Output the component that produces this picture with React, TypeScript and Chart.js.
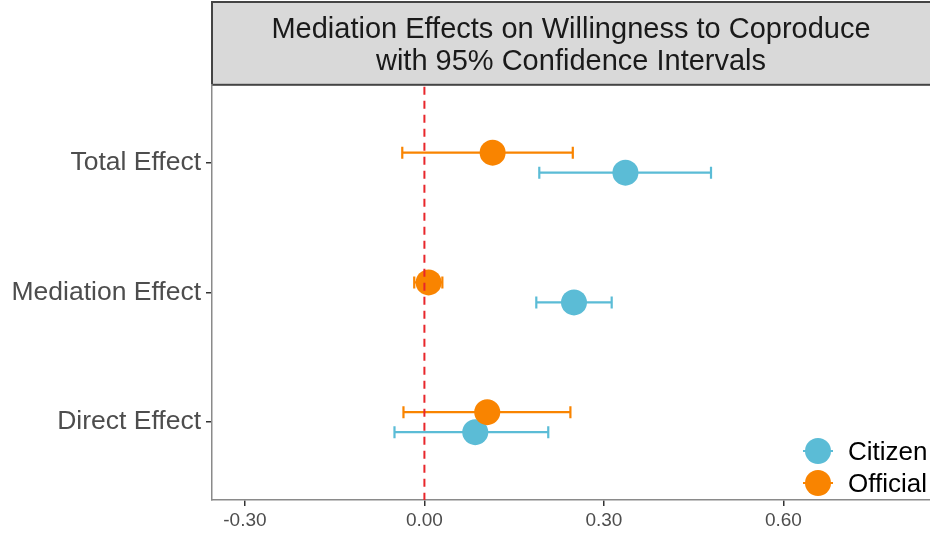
import React, { useEffect, useRef } from 'react';
import { Chart, registerables } from 'chart.js';

Chart.register(...registerables);

// ---- data ----
const categories = ['Total Effect', 'Mediation Effect', 'Direct Effect'];
const seriesNames = ['Citizen', 'Official'];
const citizenEst = [0.336, 0.25, 0.085];
const citizenLo = [0.192, 0.187, -0.05];
const citizenHi = [0.479, 0.313, 0.207];
const officialEst = [0.114, 0.007, 0.105];
const officialLo = [-0.037, -0.017, -0.035];
const officialHi = [0.248, 0.03, 0.244];
const xTickValues = [-0.3, 0, 0.3, 0.6];
const titleLines = ['Mediation Effects on Willingness to Coproduce', 'with 95% Confidence Intervals'];
const refLineValue = 0;

// ---- styles ----
const COLORS: Record<string, string> = { Citizen: '#5BBCD6', Official: '#F98400' };
const DODGE: Record<string, number> = { Citizen: 0.077, Official: -0.077 };
const FONT = "'Liberation Sans', Arial, Helvetica, sans-serif";
const POINT_R = 13;
const CAP = 6;

function makeData(est: number[], lo: number[], hi: number[], name: string) {
  return est.map((v, i) => ({ x: v, y: i + 1 + DODGE[name], lo: lo[i], hi: hi[i] }));
}

const titleBoxPlugin = {
  id: 'titleBox',
  beforeDraw(chart: any) {
    const { ctx, chartArea } = chart;
    ctx.save();
    ctx.fillStyle = '#d9d9d9';
    ctx.strokeStyle = '#444444';
    ctx.lineWidth = 2;
    const x = chartArea.left;
    const y = 2;
    const w = chart.width - x + 5;
    const h = chartArea.top - y;
    ctx.fillRect(x, y, w, h);
    ctx.strokeRect(x, y, w, h);
    ctx.restore();
  },
};

const errorBarPlugin = {
  id: 'errorBars',
  beforeDatasetsDraw(chart: any) {
    const { ctx } = chart;
    const xs = chart.scales.x;
    const ys = chart.scales.y;
    ctx.save();
    ctx.lineWidth = 2.2;
    const dsList = chart.data.datasets.slice().reverse();
    dsList.forEach((ds: any) => {
      ctx.strokeStyle = ds.backgroundColor;
      ds.data.forEach((p: any) => {
        const py = ys.getPixelForValue(p.y);
        const x1 = xs.getPixelForValue(p.lo);
        const x2 = xs.getPixelForValue(p.hi);
        ctx.beginPath();
        ctx.moveTo(x1, py);
        ctx.lineTo(x2, py);
        ctx.moveTo(x1, py - CAP);
        ctx.lineTo(x1, py + CAP);
        ctx.moveTo(x2, py - CAP);
        ctx.lineTo(x2, py + CAP);
        ctx.stroke();
      });
    });
    ctx.restore();
  },
};

const refLinePlugin = {
  id: 'refLine',
  afterDatasetsDraw(chart: any) {
    const { ctx, chartArea } = chart;
    const x = chart.scales.x.getPixelForValue(refLineValue);
    ctx.save();
    ctx.strokeStyle = '#e8262b';
    ctx.lineWidth = 2;
    ctx.setLineDash([8, 6]);
    ctx.beginPath();
    ctx.moveTo(x, chartArea.top + 2);
    ctx.lineTo(x, chartArea.bottom);
    ctx.stroke();
    ctx.restore();
  },
};

const legendPlugin = {
  id: 'innerLegend',
  afterDraw(chart: any) {
    const { ctx, chartArea } = chart;
    ctx.save();
    const keyX = 818;
    const textX = 848;
    const startY = chartArea.bottom - 49;
    seriesNames.forEach((name, i) => {
      const y = startY + i * 32;
      ctx.strokeStyle = COLORS[name];
      ctx.lineWidth = 2;
      ctx.beginPath();
      ctx.moveTo(keyX - 15, y);
      ctx.lineTo(keyX + 15, y);
      ctx.stroke();
      ctx.fillStyle = COLORS[name];
      ctx.beginPath();
      ctx.arc(keyX, y, POINT_R, 0, Math.PI * 2);
      ctx.fill();
      ctx.fillStyle = '#000000';
      ctx.font = `26px ${FONT}`;
      ctx.textAlign = 'left';
      ctx.textBaseline = 'middle';
      ctx.fillText(name, textX, y + 2);
    });
    ctx.restore();
  },
};

export default function App() {
  const ref = useRef<HTMLCanvasElement | null>(null);

  useEffect(() => {
    document.body.style.margin = '0';
    if (!ref.current) return;
    const datasets = [
      {
        label: 'Official',
        data: makeData(officialEst, officialLo, officialHi, 'Official'),
        backgroundColor: COLORS.Official,
      },
      {
        label: 'Citizen',
        data: makeData(citizenEst, citizenLo, citizenHi, 'Citizen'),
        backgroundColor: COLORS.Citizen,
      },
    ].map((d) => ({
      ...d,
      pointBackgroundColor: d.backgroundColor,
      pointBorderWidth: 0,
      borderWidth: 0,
      pointRadius: POINT_R,
      pointHoverRadius: POINT_R,
      showLine: false,
    }));

    const chart = new Chart(ref.current, {
      type: 'scatter',
      data: { datasets },
      options: {
        animation: false,
        responsive: true,
        maintainAspectRatio: false,
        events: [],
        layout: { autoPadding: false, padding: { left: 0, right: 0, top: 0, bottom: 0 } },
        plugins: {
          legend: { display: false },
          tooltip: { enabled: false },
          title: {
            display: true,
            fullSize: false,
            text: titleLines,
            color: '#1a1a1a',
            font: { family: FONT, size: 29, weight: 'normal', lineHeight: 1.1 },
            padding: { top: 14, bottom: 7 },
          },
        },
        scales: {
          x: {
            type: 'linear',
            min: -0.355,
            max: 0.845,
            afterBuildTicks: (scale: any) => {
              scale.ticks = xTickValues.map((v) => ({ value: v }));
            },
            afterFit: (scale: any) => {
              scale.height = 33;
              scale.paddingRight = 0;
              scale.paddingLeft = 0;
            },
            ticks: {
              color: '#4d4d4d',
              font: { family: FONT, size: 19 },
              padding: 3,
              callback: (v: any) => Number(v).toFixed(2),
            },
            grid: { drawOnChartArea: false, drawTicks: true, tickLength: 6, color: '#333333', lineWidth: 1.5 },
            border: { display: true, color: '#8a8a8a', width: 1.5 },
          },
          y: {
            type: 'linear',
            min: 0.4,
            max: 3.6,
            reverse: true,
            afterBuildTicks: (scale: any) => {
              scale.ticks = categories.map((_, i) => ({ value: i + 1 }));
            },
            afterFit: (scale: any) => {
              scale.width = 212;
              scale.paddingTop = 0;
              scale.paddingBottom = 0;
            },
            ticks: {
              color: '#4d4d4d',
              font: { family: FONT, size: 26.5 },
              padding: 5,
              callback: (v: any) => categories[Math.round(Number(v)) - 1] ?? '',
            },
            grid: { drawOnChartArea: false, drawTicks: true, tickLength: 6, color: '#333333', lineWidth: 1.5 },
            border: { display: true, color: '#8a8a8a', width: 1.5 },
          },
        },
      } as any,
      plugins: [titleBoxPlugin, errorBarPlugin, refLinePlugin, legendPlugin],
    });
    return () => chart.destroy();
  }, []);

  return (
    <div style={{ position: 'fixed', left: 0, top: 0, width: 930, height: 533, background: '#ffffff' }}>
      <canvas ref={ref} />
    </div>
  );
}
